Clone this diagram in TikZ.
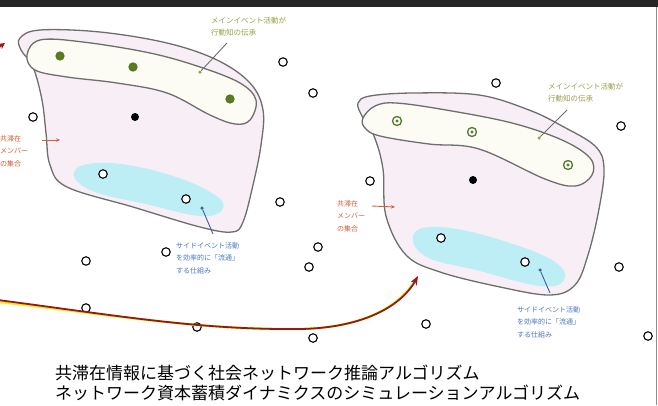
\documentclass[tikz,border=0pt]{standalone}
\usepackage{fontspec}
\newfontfamily\jp{Noto Sans CJK JP}
\usetikzlibrary{arrows.meta}
\definecolor{blobline}{HTML}{6E6E6E}
\definecolor{blobfill}{HTML}{F8EEF5}
\definecolor{innerfill}{HTML}{FCFCF4}
\definecolor{cyanfill}{HTML}{BDEEF6}
\definecolor{memgreen}{HTML}{4F7A2A}
\definecolor{olivetxt}{HTML}{9AA048}
\definecolor{redtxt}{HTML}{D0603A}
\definecolor{bluetxt}{HTML}{4A78C0}
\definecolor{arrowred}{HTML}{8E1A1E}
\tikzset{
  outerblob/.style={draw=blobline, line width=1.3pt, fill=blobfill},
  innerblob/.style={draw=blobline, line width=1.3pt, fill=innerfill},
  cyanblob/.style={fill=cyanfill},
  opencirc/.style={circle, draw=black, line width=1.1pt, fill=white, minimum size=8.5pt, inner sep=0pt},
  member/.style={circle, draw=memgreen, line width=1.2pt, fill=memgreen!70!olive, minimum size=8pt, inner sep=0pt},
  memberring/.style={circle, draw=memgreen, line width=1.3pt, fill=white, minimum size=9pt, inner sep=0pt, path picture={\fill[memgreen] (path picture bounding box.center) circle (1.6pt);}},
  hub/.style={circle, fill=black, minimum size=8pt, inner sep=0pt},
  pdot/.style={circle, minimum size=3.5pt, inner sep=0pt},
  olivelbl/.style={font=\jp\fontsize{7.5}{12}\selectfont, text=olivetxt, align=left, anchor=west, inner sep=0pt},
  redlbl/.style={font=\jp\fontsize{7}{12.5}\selectfont, text=redtxt, align=left, anchor=west, inner sep=0pt},
  bluelbl/.style={font=\jp\fontsize{7}{12.5}\selectfont, text=bluetxt, align=left, anchor=west, inner sep=0pt},
  title/.style={font=\jp\fontsize{17}{20}\selectfont, anchor=west, inner sep=0pt},
  redarrow/.style={draw=redtxt, line width=0.9pt, -{Stealth[length=4pt,width=3.5pt]}},
}
\begin{document}
\begin{tikzpicture}[x=1pt,y=-1pt]
\useasboundingbox (0,0) rectangle (658,405);
\fill[white] (0,0) rectangle (658,405);
\fill[black!85] (0,0) rectangle (658,7);
\draw[black!45, line width=1pt] (656.5,7) -- (656.5,405);

% left panel
\draw[outerblob] plot[smooth cycle, tension=0.6] coordinates {(20,38) (40,30) (100,32) (167,43) (217,60) (250,83) (263,110) (261,145) (253,185) (243,222) (232,232) (200,227) (133,207) (67,187) (50,165) (46,133) (42,100) (33,67) (21,50)};
\fill[cyanblob] plot[smooth cycle, tension=0.7] coordinates {(75,170) (110,163) (170,175) (215,195) (222,210) (200,216) (150,205) (90,190)};
\draw[innerblob] plot[smooth cycle, tension=0.6] coordinates {(27,55) (40,40) (83,42) (150,53) (200,67) (240,83) (256,100) (250,120) (235,124) (210,115) (167,93) (117,83) (67,77) (35,70)};

% right panel
\draw[outerblob] plot[smooth cycle, tension=0.6] coordinates {(358,103) (370,96) (413,93) (479,95) (529,110) (562,126) (595,146) (604,168) (599,209) (588,255) (575,285) (550,295) (500,287) (440,272) (406,255) (386,216) (383,169) (374,136) (362,116)};
\fill[cyanblob] plot[smooth cycle, tension=0.7] coordinates {(415,232) (450,228) (510,243) (555,262) (564,280) (540,286) (480,271) (425,256)};
\draw[innerblob] plot[smooth cycle, tension=0.6] coordinates {(363,118) (375,106) (396,103) (446,110) (512,123) (562,140) (590,158) (592,175) (575,186) (545,179) (479,149) (429,144) (380,136) (365,128)};

% members and hubs
\node[member] (lm1) at (60,56) {};
\node[member] (lm2) at (133,67) {};
\node[member] (lm3) at (230,99) {};
\node[hub] (lh) at (135,117) {};
\node[memberring] (rm1) at (397,121) {};
\node[memberring] (rm2) at (472,132) {};
\node[memberring] (rm3) at (568,165) {};
\node[hub] (rh) at (473,180) {};

% open circles
\foreach \n/\p in {a/{(283,62)}, b/{(313,93)}, c/{(33,117)}, d/{(103,174)}, e/{(186,199)}, f/{(280,202)}, g/{(86,261)}, h/{(166,252)}, i/{(318,247)}, j/{(309,267)}, k/{(86,308)}, l/{(197,327)}, m/{(313,338)}, n/{(426,324)}, o/{(496,83)}, p/{(621,126)}, q/{(370,181)}, r/{(441,238)}, s/{(525,262)}, t/{(619,267)}, u/{(648,336)}}
  \node[opencirc] (c\n) at \p {};

% bottom arrow
\coordinate (bs) at (-2,300);
\coordinate (be) at (418,276);
\draw[yellow!90!orange, line width=2.2pt] ([yshift=-1.8pt]bs) .. controls (120,316) and (200,330) .. (300,329) .. controls (360,328) and (400,308) .. ([xshift=-1pt,yshift=-1.5pt]be);
\draw[arrowred, line width=1.8pt, -{Stealth[length=9pt,width=7pt]}] (bs) .. controls (120,316) and (200,330) .. (300,329) .. controls (360,328) and (400,308) .. (be);
% top-left arrow tip
\coordinate (ts) at (-8,52);
\coordinate (te) at (5,43);
\draw[arrowred!80!red, line width=1.8pt, -{Stealth[length=6pt,width=6pt]}] (ts) -- (te);

% olive labels
\node[pdot, fill=olivetxt] (lod) at (200,72) {};
\coordinate (lot) at (227,43);
\draw[blobline, line width=0.9pt] (lod) -- (lot);
\node[olivelbl] (lol) at (211,27) {メインイベント活動が\\行動知の伝承};
\node[pdot, fill=olivetxt] (rod) at (539,138) {};
\coordinate (rot) at (567,110);
\draw[blobline, line width=0.9pt] (rod) -- (rot);
\node[olivelbl] (rol) at (548,93) {メインイベント活動が\\行動知の伝承};

% red labels
\node[redlbl] (lrl) at (0,151) {共滞在\\メンバー\\の集合};
\coordinate (lra) at (42,140);
\coordinate (lrb) at (60,140);
\draw[redarrow] (lra) -- (lrb);
\node[redlbl] (rrl) at (337,216) {共滞在\\メンバー\\の集合};
\coordinate (rra) at (372,206);
\coordinate (rrb) at (395,207);
\draw[redarrow] (rra) -- (rrb);

% blue labels
\node[pdot, fill=bluetxt!80!black] (lbd) at (202,208) {};
\coordinate (lbt) at (213,234);
\draw[bluetxt!80!black, line width=0.9pt] (lbd) -- (lbt);
\node[bluelbl] (lbl) at (176,258) {サイドイベント活動\\を効率的に「流通」\\する仕組み};
\node[pdot, fill=bluetxt!80!black] (rbd) at (540,270) {};
\coordinate (rbt) at (550,293);
\draw[bluetxt!80!black, line width=0.9pt] (rbd) -- (rbt);
\node[bluelbl] (rbl) at (517,322) {サイドイベント活動\\を効率的に「流通」\\する仕組み};

% titles
\node[title] (t1) at (55,373) {共滞在情報に基づく社会ネットワーク推論アルゴリズム};
\node[title] (t2) at (55,393) {ネットワーク資本蓄積ダイナミクスのシミュレーションアルゴリズム};
\end{tikzpicture}
\end{document}
